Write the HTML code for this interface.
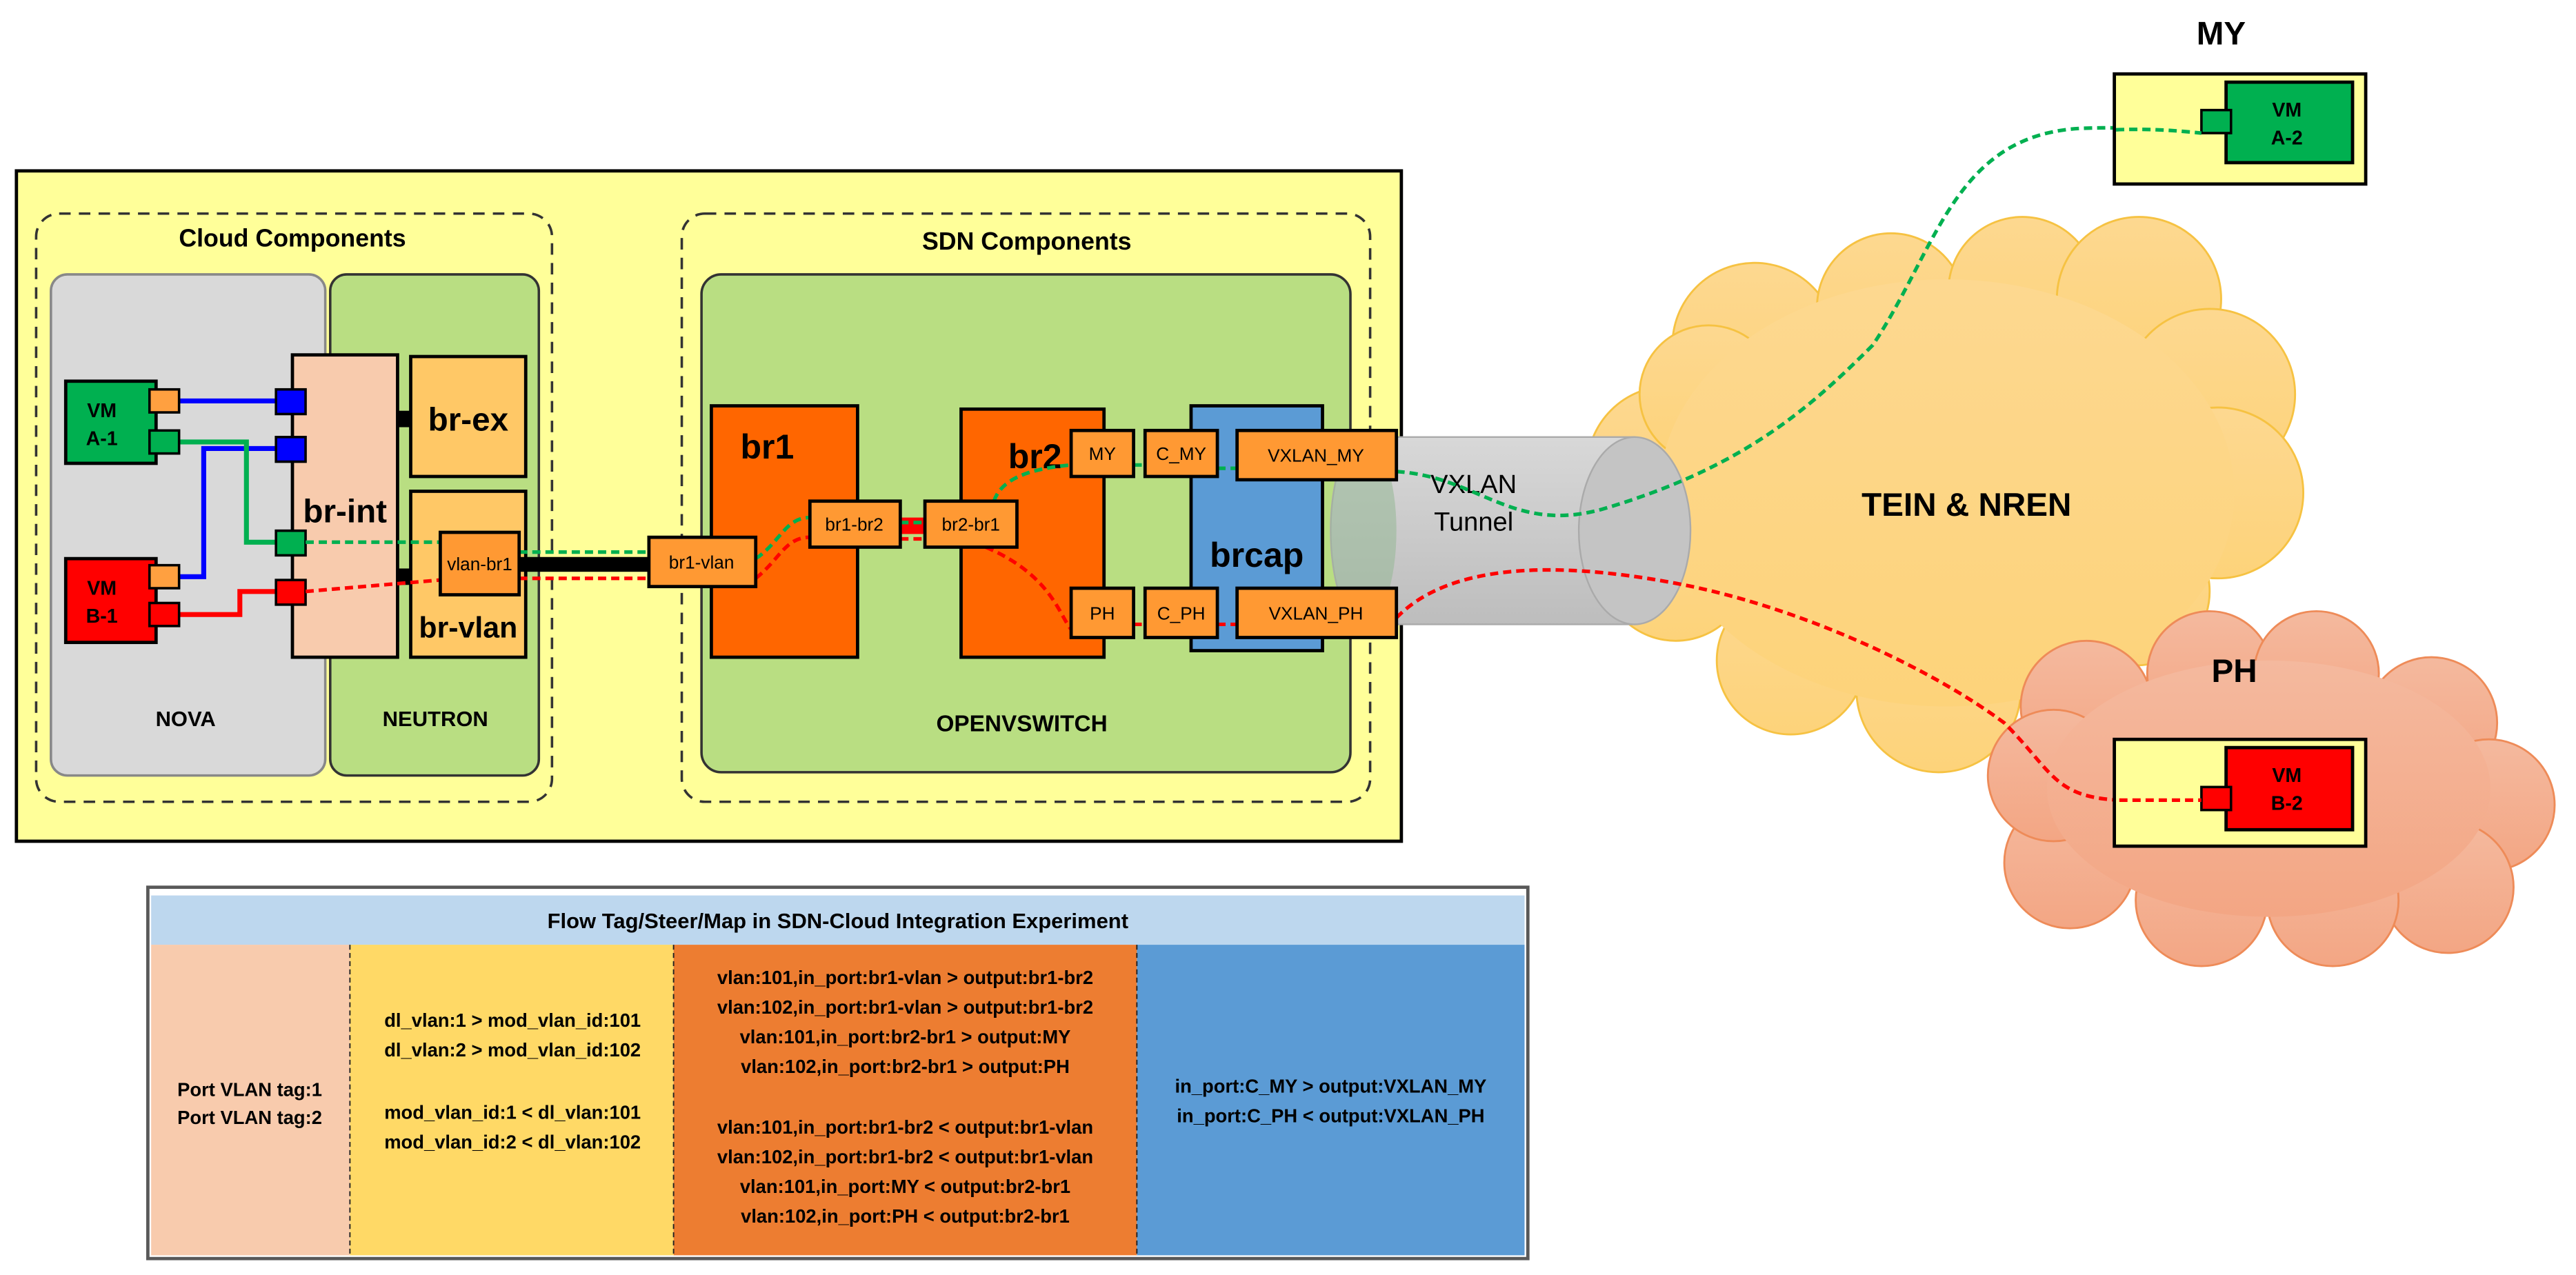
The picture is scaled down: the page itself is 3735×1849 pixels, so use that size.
<!DOCTYPE html>
<html><head><meta charset="utf-8"><style>
html,body{margin:0;padding:0;background:#fff;}
svg{display:block;}
text{font-family:"Liberation Sans",sans-serif;font-weight:bold;fill:#000;}
</style></head><body>
<svg width="3735" height="1849" viewBox="0 0 1568 776" preserveAspectRatio="none" xmlns="http://www.w3.org/2000/svg">
<defs>
<linearGradient id="tg" x1="0" y1="0" x2="0" y2="1"><stop offset="0" stop-color="#d8d8d8"/><stop offset="1" stop-color="#bdbdbd"/></linearGradient>
<linearGradient id="cy" x1="0" y1="0" x2="0" y2="1"><stop offset="0" stop-color="#fdd890"/><stop offset="1" stop-color="#fdd37a"/></linearGradient>
<linearGradient id="cp" x1="0" y1="0" x2="0" y2="1"><stop offset="0" stop-color="#f4b99e"/><stop offset="1" stop-color="#f3a684"/></linearGradient>
</defs>
<rect width="1568" height="776" fill="#fff"/>

<!-- clouds -->
<g fill="url(#cy)" stroke="#f6c242" stroke-width="1.2">
<circle cx="1068" cy="210" r="50"/><circle cx="1151" cy="187" r="45"/><circle cx="1231" cy="177" r="45"/>
<circle cx="1302" cy="182" r="50"/><circle cx="1345" cy="240" r="52"/><circle cx="1350" cy="300" r="52"/>
<circle cx="1300" cy="360" r="45"/><circle cx="1180" cy="420" r="50"/><circle cx="1090" cy="402" r="45"/>
<circle cx="1020" cy="345" r="45"/><circle cx="1016" cy="285" r="50"/><circle cx="1040" cy="240" r="42"/>
</g>
<ellipse cx="1185" cy="300" rx="175" ry="130" fill="url(#cy)"/>
<g fill="url(#cp)" stroke="#ee8b58" stroke-width="1.2">
<circle cx="1270" cy="430" r="40"/><circle cx="1345" cy="410" r="38"/><circle cx="1410" cy="410" r="38"/>
<circle cx="1480" cy="440" r="40"/><circle cx="1515" cy="490" r="40"/><circle cx="1490" cy="540" r="40"/>
<circle cx="1420" cy="548" r="40"/><circle cx="1340" cy="548" r="40"/><circle cx="1260" cy="525" r="40"/>
<circle cx="1250" cy="472" r="40"/>
</g>
<ellipse cx="1381" cy="480" rx="135" ry="78" fill="url(#cp)"/>
<text x="1197" y="314" font-size="20" text-anchor="middle">TEIN &amp; NREN</text>
<text x="1360" y="415" font-size="20" text-anchor="middle">PH</text>
<text x="1352" y="27" font-size="20" text-anchor="middle">MY</text>

<!-- main yellow -->
<rect x="10" y="104" width="843" height="408" fill="#ffff99" stroke="#000" stroke-width="2"/>
<rect x="22" y="130" width="314" height="358" rx="14" fill="none" stroke="#333" stroke-width="1.5" stroke-dasharray="7,5"/>
<rect x="415" y="130" width="419" height="358" rx="14" fill="none" stroke="#333" stroke-width="1.5" stroke-dasharray="7,5"/>
<text x="178" y="150" font-size="15" text-anchor="middle">Cloud Components</text>
<text x="625" y="152" font-size="15" text-anchor="middle">SDN Components</text>

<rect x="31" y="167" width="167" height="305" rx="10" fill="#d9d9d9" stroke="#888" stroke-width="1.5"/>
<rect x="201" y="167" width="127" height="305" rx="10" fill="#b9de82" stroke="#333" stroke-width="1.5"/>
<text x="113" y="442" font-size="13" text-anchor="middle">NOVA</text>
<text x="265" y="442" font-size="13" text-anchor="middle">NEUTRON</text>

<rect x="427" y="167" width="395" height="303" rx="12" fill="#b9de82" stroke="#333" stroke-width="1.5"/>
<text x="622" y="445" font-size="14" text-anchor="middle">OPENVSWITCH</text>

<!-- cloud side boxes -->
<rect x="250" y="217" width="70" height="73" fill="#ffc866" stroke="#000" stroke-width="2"/>
<text x="285" y="262" font-size="20" text-anchor="middle">br-ex</text>
<rect x="250" y="299" width="70" height="101" fill="#ffc866" stroke="#000" stroke-width="2"/>
<text x="285" y="388" font-size="18" text-anchor="middle">br-vlan</text>
<rect x="242" y="250" width="8" height="10" fill="#000"/>
<rect x="242" y="346" width="8" height="10" fill="#000"/>
<rect x="178" y="216" width="64" height="184" fill="#f8cbad" stroke="#000" stroke-width="2"/>
<text x="210" y="318" font-size="20" text-anchor="middle">br-int</text>

<!-- VMs -->
<rect x="40" y="232" width="55" height="50" fill="#00b050" stroke="#000" stroke-width="2"/>
<text x="62" y="254" font-size="12" text-anchor="middle">VM</text><text x="62" y="271" font-size="12" text-anchor="middle">A-1</text>
<rect x="40" y="340" width="55" height="51" fill="#ff0000" stroke="#000" stroke-width="2"/>
<text x="62" y="362" font-size="12" text-anchor="middle">VM</text><text x="62" y="379" font-size="12" text-anchor="middle">B-1</text>

<!-- solid lines -->
<polyline points="109,244 168,244" fill="none" stroke="#0000ff" stroke-width="3"/>
<polyline points="109,351 124,351 124,273 168,273" fill="none" stroke="#0000ff" stroke-width="3"/>
<polyline points="109,269 150,269 150,330 168,330" fill="none" stroke="#00b050" stroke-width="3"/>
<polyline points="109,374 146,374 146,360 168,360" fill="none" stroke="#ff0000" stroke-width="3"/>

<rect x="91" y="237" width="18" height="14" fill="#ffa040" stroke="#000" stroke-width="1.5"/>
<rect x="91" y="262" width="18" height="14" fill="#00b050" stroke="#000" stroke-width="1.5"/>
<rect x="91" y="344" width="18" height="14" fill="#ffa040" stroke="#000" stroke-width="1.5"/>
<rect x="91" y="367" width="18" height="14" fill="#ff0000" stroke="#000" stroke-width="1.5"/>
<rect x="168" y="237" width="18" height="15" fill="#0000ff" stroke="#000" stroke-width="1.5"/>
<rect x="168" y="266" width="18" height="15" fill="#0000ff" stroke="#000" stroke-width="1.5"/>
<rect x="168" y="323" width="18" height="15" fill="#00b050" stroke="#000" stroke-width="1.5"/>
<rect x="168" y="353" width="18" height="15" fill="#ff0000" stroke="#000" stroke-width="1.5"/>

<!-- thick black -->
<rect x="316" y="339" width="80" height="9" fill="#000"/>
<rect x="548" y="315" width="15" height="10" fill="#ff0000"/>

<!-- SDN boxes -->
<rect x="433" y="247" width="89" height="153" fill="#ff6600" stroke="#000" stroke-width="2"/>
<text x="467" y="279" font-size="21" text-anchor="middle">br1</text>
<rect x="585" y="249" width="87" height="151" fill="#ff6600" stroke="#000" stroke-width="2"/>
<text x="630" y="285" font-size="21" text-anchor="middle">br2</text>
<rect x="725" y="247" width="80" height="149" fill="#5b9bd5" stroke="#000" stroke-width="2"/>
<text x="765" y="345" font-size="21" text-anchor="middle">brcap</text>

<!-- tunnel -->
<path d="M830,266 L995,266 L995,380 L830,380 A20,57 0 0 1 830,266 Z" fill="url(#tg)" stroke="#aaa" stroke-width="1"/>
<ellipse cx="830" cy="323" rx="20" ry="57" fill="#9ab99a" opacity="0.6"/>
<ellipse cx="995" cy="323" rx="34" ry="57" fill="#c4c4c4" stroke="#aaa" stroke-width="1"/>
<text x="897" y="300" font-size="16" text-anchor="middle" style="font-weight:normal">VXLAN</text>
<text x="897" y="323" font-size="16" text-anchor="middle" style="font-weight:normal">Tunnel</text>

<!-- dashed paths -->
<g fill="none" stroke-width="2.2" stroke-dasharray="5,3">
<path d="M186,330 L268,330 M316,336 L395,336" stroke="#00b050"/>
<path d="M460,340 C475,330 478,315 493,315 M548,318 L563,318 M605,305 C610,290 630,285 652,283 M690,283 L697,283 M741,285 L753,285" stroke="#00b050"/>
<path d="M850,287 C900,290 920,325 975,310 C1060,285 1100,250 1140,210 C1180,150 1190,80 1270,78 C1300,77 1330,80 1340,81" stroke="#00b050"/>
<path d="M186,360 L268,353 M316,352 L395,352" stroke="#ff0000"/>
<path d="M460,352 C475,340 478,327 493,327 M548,328 L563,328 M600,333 C640,350 645,375 652,383 M690,380 L697,380 M741,380 L753,380" stroke="#ff0000"/>
<path d="M850,376 C880,345 940,340 1020,355 C1100,370 1180,410 1220,440 C1250,470 1250,485 1290,487 L1340,487" stroke="#ff0000"/>
</g>

<!-- small port boxes -->
<g stroke="#000" stroke-width="2" fill="#ff9933">
<rect x="268" y="324" width="48" height="38"/>
<rect x="395" y="327" width="65" height="30"/>
<rect x="493" y="305" width="55" height="28"/>
<rect x="563" y="305" width="56" height="28"/>
<rect x="652" y="262" width="38" height="28"/>
<rect x="697" y="262" width="44" height="28"/>
<rect x="753" y="262" width="97" height="30"/>
<rect x="652" y="358" width="38" height="30"/>
<rect x="697" y="358" width="44" height="30"/>
<rect x="753" y="358" width="97" height="30"/>
</g>
<g font-size="11" text-anchor="middle">
<text x="292" y="347" style="font-weight:normal">vlan-br1</text>
<text x="427" y="346" style="font-weight:normal">br1-vlan</text>
<text x="520" y="323" style="font-weight:normal">br1-br2</text>
<text x="591" y="323" style="font-weight:normal">br2-br1</text>
<text x="671" y="280" style="font-weight:normal">MY</text>
<text x="719" y="280" style="font-weight:normal">C_MY</text>
<text x="801" y="281" style="font-weight:normal">VXLAN_MY</text>
<text x="671" y="377" style="font-weight:normal">PH</text>
<text x="719" y="377" style="font-weight:normal">C_PH</text>
<text x="801" y="377" style="font-weight:normal">VXLAN_PH</text>
</g>

<!-- remote boxes -->
<rect x="1287" y="45" width="153" height="67" fill="#ffff99" stroke="#000" stroke-width="2"/>
<rect x="1355" y="50" width="77" height="49" fill="#00b050" stroke="#000" stroke-width="2"/>
<rect x="1340" y="67" width="18" height="14" fill="#00b050" stroke="#000" stroke-width="1.5"/>
<text x="1392" y="71" font-size="12" text-anchor="middle">VM</text><text x="1392" y="88" font-size="12" text-anchor="middle">A-2</text>
<rect x="1287" y="450" width="153" height="65" fill="#ffff99" stroke="#000" stroke-width="2"/>
<rect x="1355" y="455" width="77" height="50" fill="#ff0000" stroke="#000" stroke-width="2"/>
<rect x="1340" y="479" width="18" height="14" fill="#ff0000" stroke="#000" stroke-width="1.5"/>
<text x="1392" y="476" font-size="12" text-anchor="middle">VM</text><text x="1392" y="493" font-size="12" text-anchor="middle">B-2</text>
<path d="M1290,487 L1340,487" stroke="#ff0000" stroke-width="2.2" stroke-dasharray="5,3"/>
<path d="M1288,79 C1310,78 1330,80 1340,81" fill="none" stroke="#00b050" stroke-width="2.2" stroke-dasharray="5,3"/>

<!-- table -->
<rect x="90" y="540" width="840" height="226" fill="#fff" stroke="#595959" stroke-width="2"/>
<rect x="92" y="545" width="836" height="30" fill="#bdd7ee"/>
<rect x="92" y="575" width="121" height="189" fill="#f8cbad"/>
<rect x="213" y="575" width="197" height="189" fill="#ffd966"/>
<rect x="410" y="575" width="282" height="189" fill="#ed7d31"/>
<rect x="692" y="575" width="236" height="189" fill="#5b9bd5"/>
<g stroke="#222" stroke-width="0.8" stroke-dasharray="3,2">
<line x1="213" y1="575" x2="213" y2="764"/><line x1="410" y1="575" x2="410" y2="764"/><line x1="692" y1="575" x2="692" y2="764"/>
</g>
<text x="510" y="565" font-size="13" text-anchor="middle">Flow Tag/Steer/Map in SDN-Cloud Integration Experiment</text>
<g font-size="11.5" text-anchor="middle">
<text x="152" y="667">Port VLAN tag:1</text><text x="152" y="684">Port VLAN tag:2</text>
<text x="312" y="625">dl_vlan:1 &gt; mod_vlan_id:101</text>
<text x="312" y="643">dl_vlan:2 &gt; mod_vlan_id:102</text>
<text x="312" y="681">mod_vlan_id:1 &lt; dl_vlan:101</text>
<text x="312" y="699">mod_vlan_id:2 &lt; dl_vlan:102</text>
<text x="551" y="599">vlan:101,in_port:br1-vlan &gt; output:br1-br2</text>
<text x="551" y="617">vlan:102,in_port:br1-vlan &gt; output:br1-br2</text>
<text x="551" y="635">vlan:101,in_port:br2-br1 &gt; output:MY</text>
<text x="551" y="653">vlan:102,in_port:br2-br1 &gt; output:PH</text>
<text x="551" y="690">vlan:101,in_port:br1-br2 &lt; output:br1-vlan</text>
<text x="551" y="708">vlan:102,in_port:br1-br2 &lt; output:br1-vlan</text>
<text x="551" y="726">vlan:101,in_port:MY &lt; output:br2-br1</text>
<text x="551" y="744">vlan:102,in_port:PH &lt; output:br2-br1</text>
<text x="810" y="665">in_port:C_MY &gt; output:VXLAN_MY</text>
<text x="810" y="683">in_port:C_PH &lt; output:VXLAN_PH</text>
</g>
</svg>
</body></html>
